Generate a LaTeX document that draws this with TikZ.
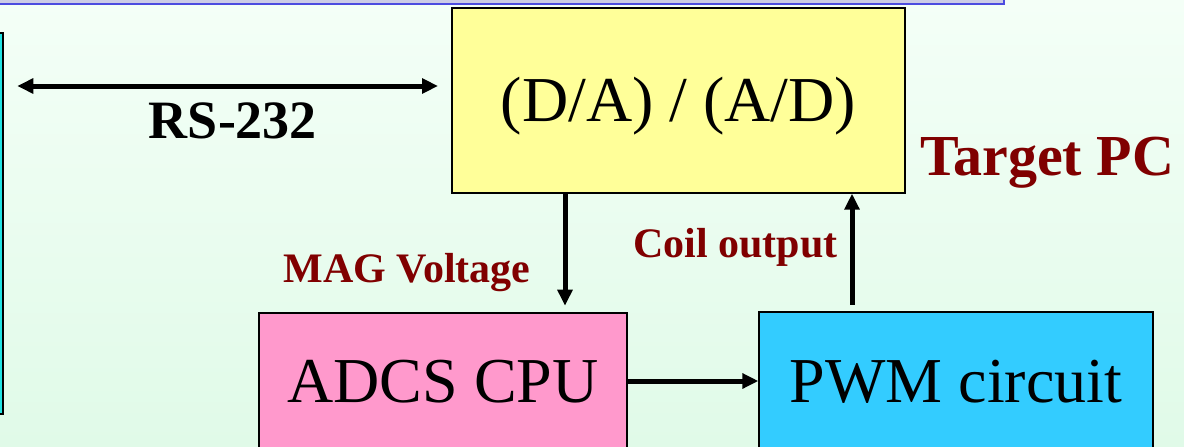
\documentclass[tikz,border=0pt]{standalone}
\usepackage{fontspec}
\setmainfont{LiberationSerif}[Extension=.ttf, UprightFont=*-Regular, BoldFont=*-Bold, ItalicFont=*-Italic, BoldItalicFont=*-BoldItalic]
\usepackage{xcolor}
\usetikzlibrary{positioning, arrows.meta, calc}

\definecolor{dayellow}{HTML}{FFFF99}
\definecolor{cpupink}{HTML}{FF99CC}
\definecolor{pwmblue}{HTML}{33CCFF}
\definecolor{hostcyan}{HTML}{22E4E4}
\definecolor{labelred}{HTML}{800000}
\definecolor{bartint}{HTML}{CCCCE6}
\definecolor{barline}{HTML}{4C4CE0}
\definecolor{bgtop}{HTML}{F4FFF7}
\definecolor{bgbottom}{HTML}{E0FAE8}

\begin{document}
\begin{tikzpicture}[
        x=0.75pt, y=-0.75pt,
        >={Triangle[length=12pt, width=11pt]},
        % Boxes of the loop
        block/.style={draw=black, line width=1pt, inner sep=0pt,
            font=\fontsize{48}{56}\selectfont, text height=43pt, text depth=11pt},
        link/.style={line width=3.75pt},
        siglabel/.style={font=\bfseries\fontsize{31.5}{36}\selectfont, text=labelred, anchor=base}
    ]

    % --- Page ---
    \useasboundingbox (0,0) rectangle (1184,446);
    \clip (0,0) rectangle (1184,446);
    \shade[top color=bgtop, bottom color=bgbottom] (0,0) rectangle (1184,446);
    \draw[fill=bartint, draw=barline, line width=1.2pt] (-20,-20) rectangle (1004,4);

    % --- Block Definitions ---
    \node[block, fill=hostcyan, line width=1.5pt, minimum width=17.25pt, minimum height=285.75pt] (host) at (-8.5,223.5) {};
    \node[block, fill=dayellow, minimum width=339.75pt, minimum height=138.75pt] (dabox) at (678.5,100.5) {(D/A) / (A/D)};
    \node[block, fill=cpupink, minimum width=276pt, minimum height=102pt] (cpubox) at (443,381) {ADCS CPU};
    \node[block, fill=pwmblue, minimum width=295.5pt, minimum height=103.5pt] (pwmbox) at (956,381) {PWM circuit};

    \coordinate (rs) at (0,86);
    \coordinate (mag) at (565,0);
    \coordinate (coil) at (852,0);

    % --- Connections ---
    \draw[link, <->, shorten <=10pt, shorten >=10pt] (host.east |- rs) -- (dabox.west |- rs);
    \draw[link, ->, shorten >=5pt] (dabox.south -| mag) -- (cpubox.north -| mag);
    \draw[link, ->, shorten <=5pt] (pwmbox.north -| coil) -- (dabox.south -| coil);
    \draw[link, ->] (cpubox.east) -- (pwmbox.west);

    % --- Labels ---
    \node[anchor=base, font=\bfseries\fontsize{40.5}{46}\selectfont] (rslabel) at (233,138) {RS-232};
    \node[anchor=base, font=\bfseries\fontsize{43.5}{50}\selectfont, text=labelred] (target) at (1047,175) {Target PC};
    \node[siglabel] (maglabel) at (407,282) {MAG Voltage};
    \node[siglabel] (coillabel) at (735.5,257) {Coil output};

\end{tikzpicture}
\end{document}
